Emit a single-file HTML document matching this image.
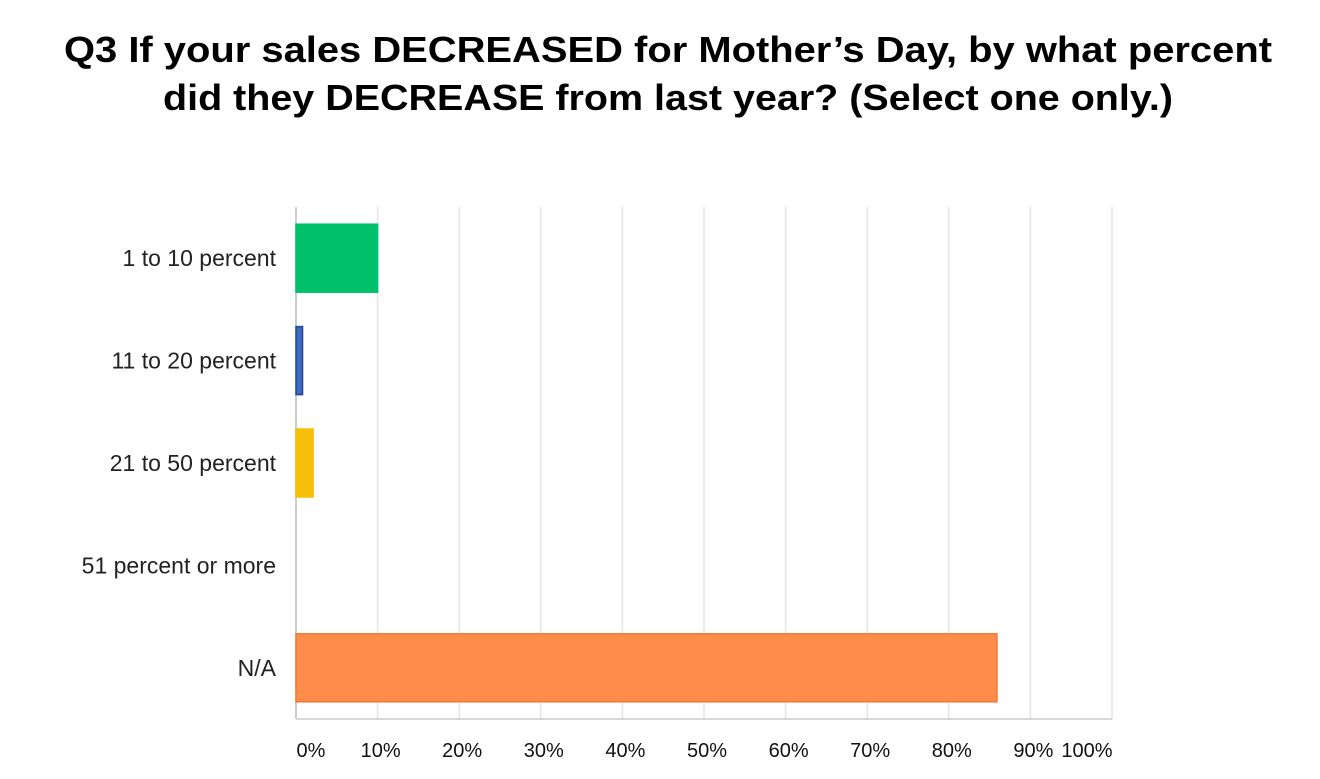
<!DOCTYPE html>
<html><head><meta charset="utf-8"><style>
body{margin:0;background:#fff;font-family:"Liberation Sans",Arial,sans-serif}
</style></head><body>
<svg width="1320" height="774" xmlns="http://www.w3.org/2000/svg">
<text x="668" y="62" text-anchor="middle" font-size="36" font-weight="bold" fill="#000" textLength="1208" lengthAdjust="spacingAndGlyphs">Q3 If your sales DECREASED for Mother’s Day, by what percent</text>
<text x="668" y="110" text-anchor="middle" font-size="36" font-weight="bold" fill="#000" textLength="1010" lengthAdjust="spacingAndGlyphs">did they DECREASE from last year? (Select one only.)</text>
<g id="grid"></g><g id="bars"></g><g id="labels"></g>
</svg>
<script>
const categories=["1 to 10 percent","11 to 20 percent","21 to 50 percent","51 percent or more","N/A"];
const values=[10,0.8,2.1,0,85.9];
const colors=["#00c06b","#3d6bbf","#f7bf0a","#888","#ff8c4a"];
const strokes=["#00c06b","#24449a","#f7bf0a","#888","#f07a34"];
const ticks=[0,10,20,30,40,50,60,70,80,90,100];
const tickLabels=["0%","10%","20%","30%","40%","50%","60%","70%","80%","90%","100%"];
const NS="http://www.w3.org/2000/svg";
const x0=296,x1=1112,yTop=207,yBot=719;
const xs=v=>x0+(x1-x0)*v/100;
const band=(yBot-yTop)/categories.length;
function mk(t,a,p){const e=document.createElementNS(NS,t);for(const k in a)e.setAttribute(k,a[k]);p.appendChild(e);return e;}
const g=document.getElementById('grid'),b=document.getElementById('bars'),l=document.getElementById('labels');
ticks.forEach((t,i)=>{
 if(t>0){const ln=mk('line',{x1:xs(t),x2:xs(t),y1:yTop,y2:yBot,stroke:'#e4e4e4','stroke-width':1.5},g);
 
 }
 let cx=xs(t)+3; if(i===0)cx=311; if(i===ticks.length-1)cx=1087;
 const tx=mk('text',{x:cx,y:757,'text-anchor':'middle','font-size':20,fill:'#111'},l);
 tx.textContent=tickLabels[i];
 
 
});
const ax=mk('line',{x1:x0,x2:x0,y1:yTop,y2:yBot,stroke:'#bbb','stroke-width':1.5},g);


const bx=mk('line',{x1:x0,x2:x1,y1:yBot,y2:yBot,stroke:'#ccc','stroke-width':1.5},g);


const bh=68;
categories.forEach((c,i)=>{
 const cy=yTop+band*(i+0.5);
 if(values[i]>0){const r=mk('rect',{x:x0,y:cy-bh/2,width:xs(values[i])-x0,height:bh,fill:colors[i],stroke:strokes[i],'stroke-width':1.5},b);
 
 }
 const t=mk('text',{x:276,y:cy+8,'text-anchor':'end','font-size':23,fill:'#222'},l);
 t.textContent=c;
 
 
});
</script>
</body></html>
